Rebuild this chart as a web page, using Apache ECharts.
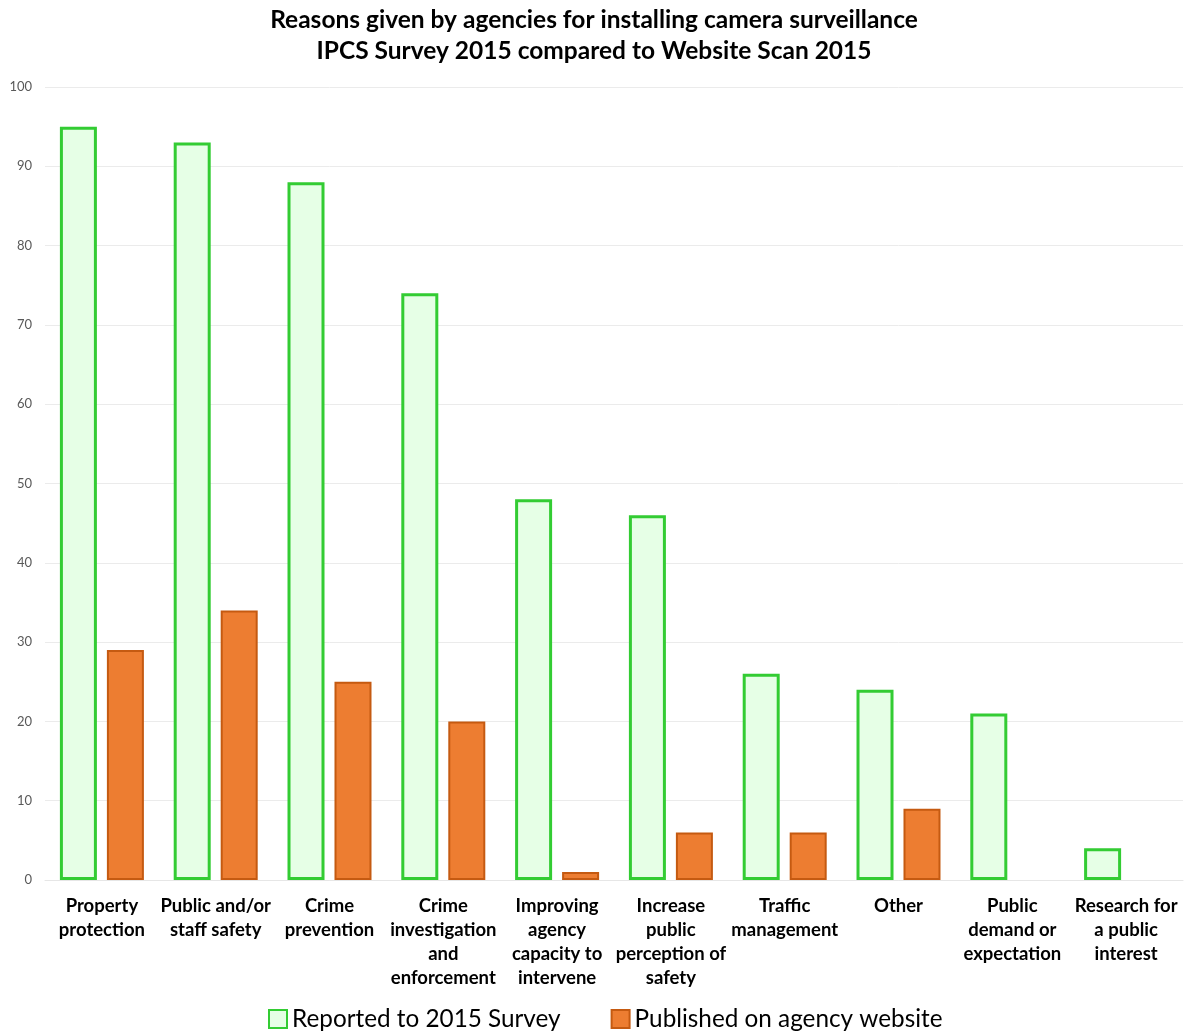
<!DOCTYPE html>
<html>
<head>
<meta charset="utf-8">
<script src="https://cdn.jsdelivr.net/npm/echarts@6/dist/echarts.min.js"></script>
<style>
html,body{margin:0;padding:0;background:#fff;}
#c{width:1188px;height:1033px;}
</style>
</head>
<body>
<div id="c"></div>
<script>
var categories = [
  "Property\nprotection",
  "Public and/or\nstaff safety",
  "Crime\nprevention",
  "Crime\ninvestigation\nand\nenforcement",
  "Improving\nagency\ncapacity to\nintervene",
  "Increase\npublic\nperception of\nsafety",
  "Traffic\nmanagement",
  "Other",
  "Public\ndemand or\nexpectation",
  "Research for\na public\ninterest"
];
var surveyValues = [95, 93, 88, 74, 48, 46, 26, 24, 21, 4];
var websiteValues = [29, 34, 25, 20, 1, 6, 6, 9, null, null];
var yTicks = [0, 10, 20, 30, 40, 50, 60, 70, 80, 90, 100];

var chart = echarts.init(document.getElementById('c'));
chart.setOption({
  animation: false,
  title: {
    text: 'Reasons given by agencies for installing camera surveillance\nIPCS Survey 2015 compared to Website Scan 2015',
    left: 'center',
    top: 0,
    textStyle: {
      fontFamily: 'Lato',
      fontWeight: 'bold',
      fontSize: 24.5,
      lineHeight: 31,
      color: '#000'
    }
  },
  legend: {
    bottom: -3,
    left: 263,
    itemWidth: 18,
    itemHeight: 18,
    itemGap: 50,
    icon: 'rect',
    textStyle: {
      fontFamily: 'Lato',
      fontSize: 24.3,
      color: '#000'
    }
  },
  grid: {
    left: 45,
    right: 5,
    top: 87,
    bottom: 153
  },
  xAxis: {
    type: 'category',
    data: categories,
    axisLine: { lineStyle: { color: '#e6e6e6' } },
    axisTick: { show: false },
    axisLabel: {
      interval: 0,
      margin: 14,
      fontFamily: 'Lato',
      fontWeight: 'bold',
      fontSize: 18.5,
      lineHeight: 24,
      color: '#000'
    }
  },
  yAxis: {
    type: 'value',
    min: yTicks[0],
    max: yTicks[yTicks.length - 1],
    interval: 10,
    axisLine: { show: false },
    axisTick: { show: false },
    splitLine: { lineStyle: { color: '#ebebeb' } },
    axisLabel: {
      margin: 13,
      fontFamily: 'Lato',
      fontSize: 13,
      color: '#595959'
    }
  },
  series: [
    {
      name: 'Reported to 2015 Survey',
      type: 'bar',
      data: surveyValues,
      barWidth: 37,
      barGap: '27%',
      itemStyle: {
        color: '#e6ffe6',
        borderColor: '#33cc33',
        borderWidth: 3
      }
    },
    {
      name: 'Published on agency website',
      type: 'bar',
      data: websiteValues,
      barWidth: 37,
      barGap: '27%',
      itemStyle: {
        color: '#ed7d31',
        borderColor: '#c55a11',
        borderWidth: 2
      }
    }
  ]
});
</script>
</body>
</html>
